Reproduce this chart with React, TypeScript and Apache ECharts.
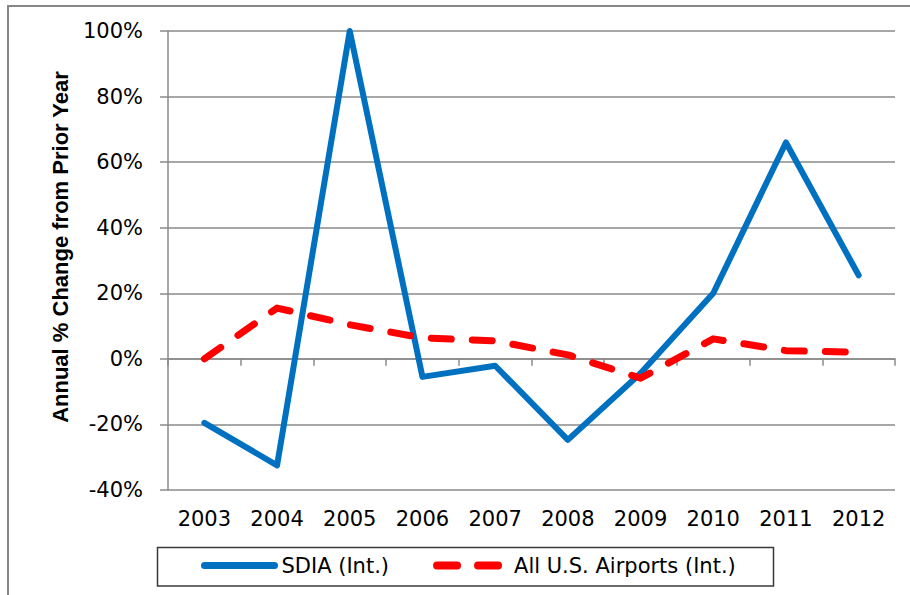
import React, { useEffect, useRef } from "react";
import * as echarts from "echarts";

const years = ["2003", "2004", "2005", "2006", "2007", "2008", "2009", "2010", "2011", "2012"];
const sdiaValues = [-19.5, -32.5, 100, -5.5, -2.1, -24.7, -4.4, 20, 66, 25.5];
const allUsValues = [0, 15.5, 10.4, 6.4, 5.5, 1.2, -5.9, 6.1, 2.5, 2.0];
const yMin = -40;
const yMax = 100;
const yStep = 20;

const seriesNames = ["SDIA (Int.)", "All U.S. Airports (Int.)"];
const yTitle = "Annual % Change from Prior Year";

const GRAY = "#8a8a8a";
const FONT = "DejaVu Sans";
const BLUE = "#0070C0";
const RED = "#FF0000";

export default function App() {
  const ref = useRef<HTMLDivElement>(null);

  useEffect(() => {
    if (!ref.current) return;
    const chart = echarts.init(ref.current, undefined, { renderer: "svg" });
    chart.setOption({
      animation: false,
      backgroundColor: "#ffffff",
      grid: { left: 168, right: 15, top: 31, bottom: 105, containLabel: false },
      xAxis: [
        {
          type: "category",
          data: years,
          boundaryGap: true,
          axisLine: { show: true, onZero: true, lineStyle: { color: GRAY, width: 1.5 } },
          axisTick: { show: true, length: 7, inside: false, lineStyle: { color: GRAY, width: 1.5 } },
          axisLabel: { show: false },
          splitLine: { show: false },
        },
        {
          type: "category",
          data: years,
          position: "bottom",
          boundaryGap: true,
          axisLine: { show: false, onZero: false },
          axisTick: { show: false },
          axisLabel: { show: true, margin: 18, color: "#000", fontFamily: FONT, fontSize: 21 },
          splitLine: { show: false },
        },
      ],
      yAxis: {
        type: "value",
        min: yMin,
        max: yMax,
        interval: yStep,
        axisLine: { show: true, lineStyle: { color: GRAY, width: 1.5 } },
        axisTick: { show: true, length: 8, inside: false, lineStyle: { color: GRAY, width: 1.5 } },
        axisLabel: {
          margin: 25,
          formatter: "{value}%",
          color: "#000",
          fontFamily: FONT,
          fontSize: 21,
        },
        splitLine: { show: true, lineStyle: { color: GRAY, width: 1.5 } },
      },
      legend: {
        left: 201,
        top: 555,
        padding: 0,
        itemWidth: 70,
        itemHeight: 20,
        itemGap: 44,
        textStyle: { color: "#000", fontFamily: FONT, fontSize: 21, padding: [0, 0, 0, 2] },
        itemStyle: { opacity: 0 },
        lineStyle: { width: 7, cap: "round" },
        data: [
          { name: seriesNames[0], itemStyle: { opacity: 0 }, lineStyle: { width: 7, color: BLUE, cap: "round" } },
          {
            name: seriesNames[1],
            itemStyle: { opacity: 0 },
            lineStyle: { width: 8, color: RED, type: [20, 21], cap: "round" },
          },
        ],
        selectedMode: false,
      },
      series: [
        {
          name: seriesNames[0],
          type: "line",
          xAxisIndex: 0,
          data: sdiaValues,
          symbol: "none",
          clip: false,
          lineStyle: { color: BLUE, width: 6, cap: "round", join: "round" },
          itemStyle: { color: BLUE },
          z: 3,
        },
        {
          name: seriesNames[1],
          type: "line",
          xAxisIndex: 0,
          data: allUsValues,
          symbol: "none",
          clip: false,
          lineStyle: { color: RED, width: 7, type: [20, 21], cap: "round", join: "round" },
          itemStyle: { color: RED },
          z: 4,
        },
      ],
      graphic: [
        {
          type: "rect",
          shape: { x: 8, y: 6, width: 1200, height: 1200 },
          style: { fill: "none", stroke: "#868686", lineWidth: 2 },
          silent: true,
          z: -1,
        },
        {
          type: "rect",
          shape: { x: 157.5, y: 547.5, width: 616, height: 38.5 },
          style: { fill: "none", stroke: "#3a3a3a", lineWidth: 1.5 },
          silent: true,
        },
        {
          type: "text",
          x: 60,
          y: 247,
          rotation: Math.PI / 2,
          style: {
            text: yTitle,
            fontFamily: "Liberation Sans",
            fontWeight: "bold",
            fontSize: 22,
            fill: "#000",
            align: "center",
            verticalAlign: "middle",
          },
          silent: true,
        },
      ],
    });
    return () => chart.dispose();
  }, []);

  return (
    <div
      ref={ref}
      style={{ position: "fixed", left: 0, top: 0, width: 910, height: 595, background: "#fff" }}
    />
  );
}
